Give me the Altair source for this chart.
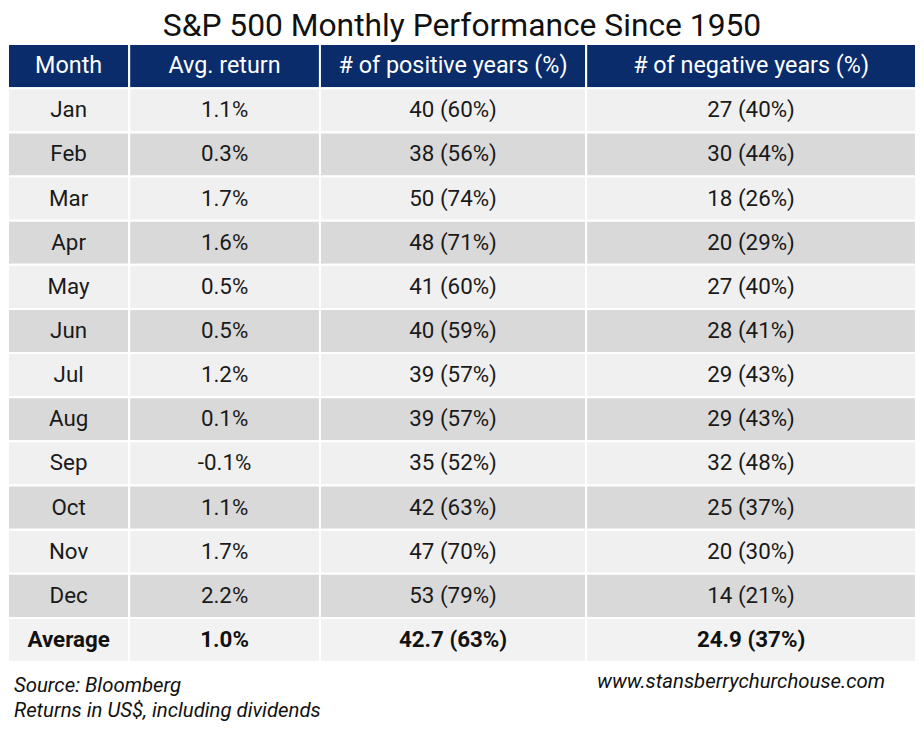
import altair as alt
import pandas as pd

# ---------------- data ----------------
title_text = "S&P 500 Monthly Performance Since 1950"
headers = ["Month", "Avg. return", "# of positive years (%)", "# of negative years (%)"]
months = ["Jan", "Feb", "Mar", "Apr", "May", "Jun", "Jul", "Aug", "Sep", "Oct", "Nov", "Dec"]
avg_return = [1.1, 0.3, 1.7, 1.6, 0.5, 0.5, 1.2, 0.1, -0.1, 1.1, 1.7, 2.2]
pos_years = [40, 38, 50, 48, 41, 40, 39, 39, 35, 42, 47, 53]
pos_pct = [60, 56, 74, 71, 60, 59, 57, 57, 52, 63, 70, 79]
neg_years = [27, 30, 18, 20, 27, 28, 29, 29, 32, 25, 20, 14]
neg_pct = [40, 44, 26, 29, 40, 41, 43, 43, 48, 37, 30, 21]
avg_label = "Average"
avg_all_return = 1.0
avg_pos_years, avg_pos_pct = 42.7, 63
avg_neg_years, avg_neg_pct = 24.9, 37
source_lines = ["Source: Bloomberg", "Returns in US$, including dividends"]
website = "www.stansberrychurchouse.com"

# ---------------- layout ----------------
W = 914
ROW_H = 44.43
COL_EDGES = [0, 122, 314, 582, 914]
NAVY = "#0a2c6b"
LIGHT = "#f0f0f0"
DARK = "#d9d9d9"
TEXT = "#1a1a1a"
FONT = "Roboto"
PAD_TOP = 34
PAD_BOTTOM = 59

row_keys = ["header"] + months + [avg_label]
H = ROW_H * len(row_keys)

records = []
def add_row(key, kind, cells):
    for j, t in enumerate(cells):
        x0, x1 = COL_EDGES[j], COL_EDGES[j + 1]
        records.append(dict(row=key, kind=kind, text=t, x0=x0, x1=x1, xc=(x0 + x1) / 2))

add_row("header", "header", headers)
for i, m in enumerate(months):
    add_row(m, "light" if i % 2 == 0 else "dark",
            [m, f"{avg_return[i]:.1f}%",
             f"{pos_years[i]} ({pos_pct[i]}%)",
             f"{neg_years[i]} ({neg_pct[i]}%)"])
add_row(avg_label, "avg",
        [avg_label, f"{avg_all_return:.1f}%",
         f"{avg_pos_years} ({avg_pos_pct}%)",
         f"{avg_neg_years} ({avg_neg_pct}%)"])

df = pd.DataFrame(records)

xs = alt.Scale(domain=[0, W], nice=False, zero=False)
ys = alt.Scale(domain=row_keys, paddingInner=0, paddingOuter=0, round=False)

base = alt.Chart(df)

cells = base.mark_rect(stroke="white", strokeWidth=2).encode(
    x=alt.X("x0:Q", scale=xs, axis=None),
    x2="x1:Q",
    y=alt.Y("row:N", scale=ys, axis=None),
    fill=alt.Fill("kind:N",
                  scale=alt.Scale(domain=["header", "light", "dark", "avg"],
                                  range=[NAVY, LIGHT, DARK, "#f2f2f2"]),
                  legend=None),
)

def text_layer(kind_filter, color, weight, size):
    return base.transform_filter(kind_filter).mark_text(
        font=FONT, fontSize=size, color=color, fontWeight=weight, baseline="middle", align="center"
    ).encode(
        x=alt.X("xc:Q", scale=xs, axis=None),
        y=alt.Y("row:N", scale=ys, axis=None),
        text="text:N",
    )

header_text = text_layer("datum.kind == 'header'", "white", "normal", 23.5)
body_text = text_layer("datum.kind == 'light' || datum.kind == 'dark'", TEXT, "normal", 22.5)
avg_text = text_layer("datum.kind == 'avg'", "#111111", "bold", 22.5)

FOOT_FS = 20.5
def foot(t, x, y, align):
    return alt.Chart(pd.DataFrame({"t": [t]})).mark_text(
        font=FONT, fontSize=FOOT_FS, fontStyle="italic", color="#111111", align=align, baseline="middle"
    ).encode(x=alt.value(x), y=alt.value(y), text="t:N")

foot1 = foot(source_lines[0], 6, H + 24, "left")
foot2 = foot(source_lines[1], 6, H + 49, "left")
foot3 = foot(website, 738, H + 20, "center")

chart = alt.layer(cells, header_text, body_text, avg_text, foot1, foot2, foot3).properties(
    width=W,
    height=H,
    padding={"top": PAD_TOP, "bottom": PAD_BOTTOM, "left": 0, "right": 0},
    autosize=alt.AutoSizeParams(type="none"),
    background="white",
    title=alt.TitleParams(title_text, font=FONT, fontSize=32, fontWeight="normal",
                          color="#111111", anchor="middle", offset=0),
).configure_view(stroke=None)

chart.save("out.html", embed_options={"renderer": "svg", "actions": False})
